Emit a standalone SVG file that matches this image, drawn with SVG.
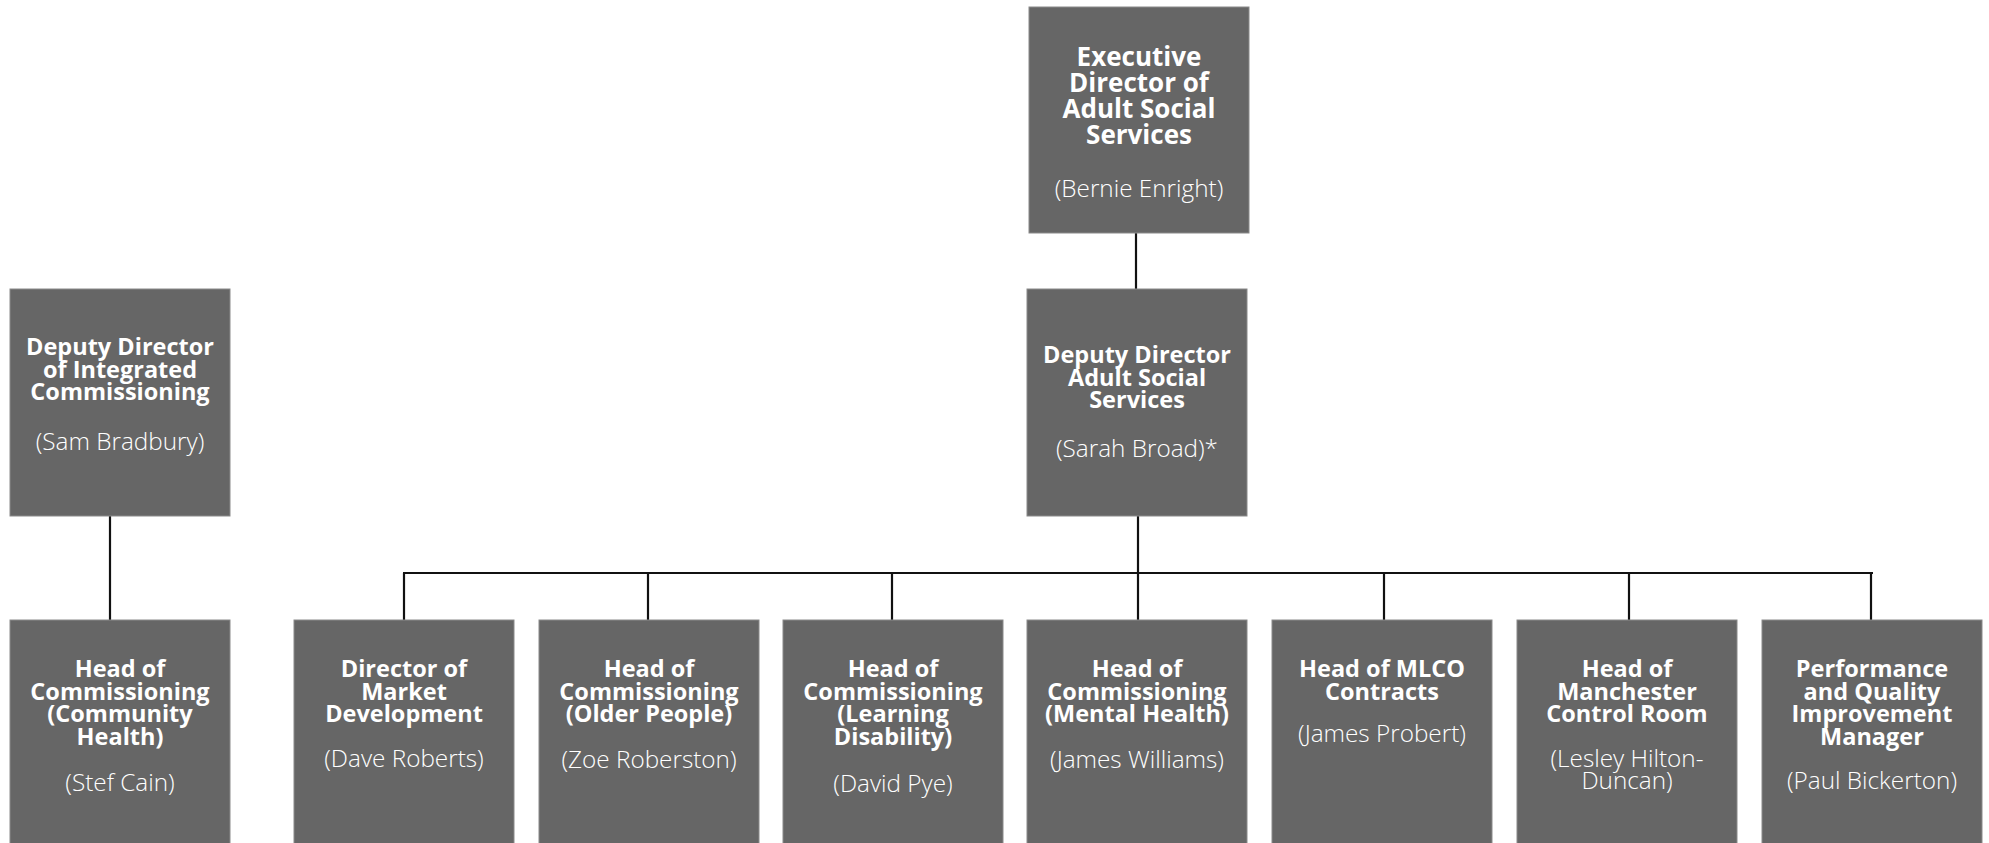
<svg xmlns="http://www.w3.org/2000/svg" width="1989" height="843" viewBox="0 0 1989 843">
<style>
.box{fill:#666666;stroke:#8a8a8a;stroke-width:1}
.t{font-family:"Open Sans","Liberation Sans",sans-serif;font-weight:700;font-size:23.5px;fill:#ffffff;text-anchor:middle}
.tb{font-size:26px}
.n{font-family:"Open Sans","Liberation Sans",sans-serif;font-weight:300;font-size:24.3px;fill:#ffffff;text-anchor:middle}
.c{stroke:#111111;stroke-width:2.2;fill:none}
</style>
<rect width="1989" height="843" fill="#ffffff"/>
<g id="connectors">
<line class="c" x1="1136" y1="233" x2="1136" y2="289"/>
<line class="c" x1="110" y1="516" x2="110" y2="620"/>
<line class="c" x1="1138" y1="516" x2="1138" y2="620"/>
<line class="c" x1="403" y1="573" x2="1873" y2="573"/>
<line class="c" x1="404" y1="573" x2="404" y2="620"/>
<line class="c" x1="648" y1="573" x2="648" y2="620"/>
<line class="c" x1="892" y1="573" x2="892" y2="620"/>
<line class="c" x1="1384" y1="573" x2="1384" y2="620"/>
<line class="c" x1="1629" y1="573" x2="1629" y2="620"/>
<line class="c" x1="1871" y1="573" x2="1871" y2="620"/>
</g>
<g id="exec">
<rect class="box" x="1029" y="7" width="220" height="226"/>
<text class="t tb" x="1139"><tspan x="1139" y="66">Executive</tspan><tspan x="1139" y="92">Director of</tspan><tspan x="1139" y="118">Adult Social</tspan><tspan x="1139" y="144">Services</tspan></text>
<text class="n" x="1139" y="197">(Bernie Enright)</text>
</g>
<g id="dd-integrated">
<rect class="box" x="10" y="289" width="220" height="227"/>
<text class="t"><tspan x="120" y="355">Deputy Director</tspan><tspan x="120" y="377.5">of Integrated</tspan><tspan x="120" y="400">Commissioning</tspan></text>
<text class="n" x="120" y="450">(Sam Bradbury)</text>
</g>
<g id="dd-ass">
<rect class="box" x="1027" y="289" width="220" height="227"/>
<text class="t"><tspan x="1137" y="363">Deputy Director</tspan><tspan x="1137" y="385.5">Adult Social</tspan><tspan x="1137" y="408">Services</tspan></text>
<text class="n" x="1137" y="457">(Sarah Broad)*</text>
</g>
<g id="community-health">
<rect class="box" x="10" y="620" width="220" height="230"/>
<text class="t"><tspan x="120" y="677">Head of</tspan><tspan x="120" y="699.5">Commissioning</tspan><tspan x="120" y="722">(Community</tspan><tspan x="120" y="744.5">Health)</tspan></text>
<text class="n" x="120" y="791">(Stef Cain)</text>
</g>
<g id="market-dev">
<rect class="box" x="294" y="620" width="220" height="230"/>
<text class="t"><tspan x="404" y="677">Director of</tspan><tspan x="404" y="699.5">Market</tspan><tspan x="404" y="722">Development</tspan></text>
<text class="n" x="404" y="767">(Dave Roberts)</text>
</g>
<g id="older-people">
<rect class="box" x="539" y="620" width="220" height="230"/>
<text class="t"><tspan x="649" y="677">Head of</tspan><tspan x="649" y="699.5">Commissioning</tspan><tspan x="649" y="722">(Older People)</tspan></text>
<text class="n" x="649" y="768">(Zoe Roberston)</text>
</g>
<g id="learning-disability">
<rect class="box" x="783" y="620" width="220" height="230"/>
<text class="t"><tspan x="893" y="677">Head of</tspan><tspan x="893" y="699.5">Commissioning</tspan><tspan x="893" y="722">(Learning</tspan><tspan x="893" y="744.5">Disability)</tspan></text>
<text class="n" x="893" y="792">(David Pye)</text>
</g>
<g id="mental-health">
<rect class="box" x="1027" y="620" width="220" height="230"/>
<text class="t"><tspan x="1137" y="677">Head of</tspan><tspan x="1137" y="699.5">Commissioning</tspan><tspan x="1137" y="722">(Mental Health)</tspan></text>
<text class="n" x="1137" y="768">(James Williams)</text>
</g>
<g id="mlco">
<rect class="box" x="1272" y="620" width="220" height="230"/>
<text class="t"><tspan x="1382" y="677">Head of MLCO</tspan><tspan x="1382" y="699.5">Contracts</tspan></text>
<text class="n" x="1382" y="742">(James Probert)</text>
</g>
<g id="control-room">
<rect class="box" x="1517" y="620" width="220" height="230"/>
<text class="t"><tspan x="1627" y="677">Head of</tspan><tspan x="1627" y="699.5">Manchester</tspan><tspan x="1627" y="722">Control Room</tspan></text>
<text class="n"><tspan x="1627" y="767">(Lesley Hilton-</tspan><tspan x="1627" y="789">Duncan)</tspan></text>
</g>
<g id="performance">
<rect class="box" x="1762" y="620" width="220" height="230"/>
<text class="t"><tspan x="1872" y="677">Performance</tspan><tspan x="1872" y="699.5">and Quality</tspan><tspan x="1872" y="722">Improvement</tspan><tspan x="1872" y="744.5">Manager</tspan></text>
<text class="n" x="1872" y="789">(Paul Bickerton)</text>
</g>
</svg>
